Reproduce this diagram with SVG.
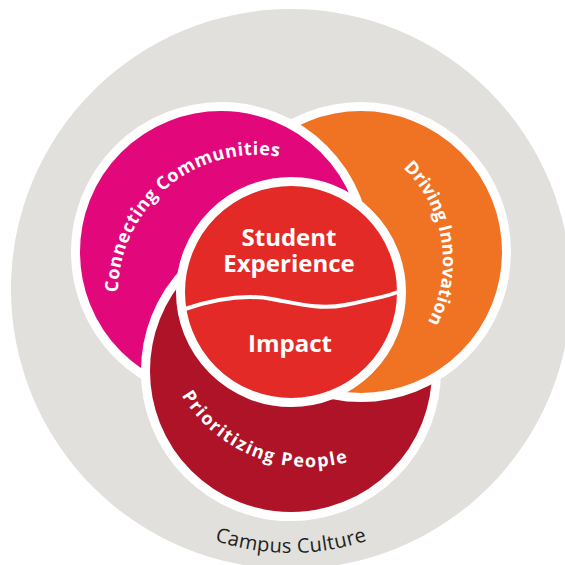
<svg xmlns="http://www.w3.org/2000/svg" width="565" height="565" viewBox="0 0 565 565">
<style>
.ring{stroke:#fff;stroke-width:9}
.lbl{font-family:"Open Sans","Liberation Sans",sans-serif;font-weight:700;fill:#fff}
.arc{font-family:"Open Sans","Liberation Sans",sans-serif;font-weight:700;fill:#fff;font-size:18px}
</style>
<defs>
<path id="pinkArc" d="M136.6,363.5 A139,139 0 0 1 346.4,187.5"/>
<path id="orangeArc" d="M314,132 A129,129 0 0 1 353.9,383.7"/>
<path id="redArc" d="M162.3,292.1 A149,149 0 0 0 434,399.2"/>
<path id="campusArc" d="M83.2,433 A240,240 0 0 0 498.8,433"/>
<clipPath id="wedge"><polygon points="291,292 291,565 0,565 0,140 40,140"/></clipPath>
</defs>
<rect width="565" height="565" fill="#fff"/>
<g id="campus-culture">
<circle cx="291" cy="289" r="280" fill="#e2e0dc"/>
<text font-family="'Open Sans','Liberation Sans',sans-serif" font-size="20" fill="#231f20" text-anchor="middle" letter-spacing="0.4"><textPath href="#campusArc" startOffset="50%">Campus Culture</textPath></text>
</g>
<g id="prioritizing-people-base">
<circle class="ring" cx="291" cy="371" r="145.5" fill="#ae1328"/>
</g>
<g id="driving-innovation">
<circle class="ring" cx="361" cy="252" r="145.5" fill="#f07324"/>
<text class="arc" text-anchor="middle"><textPath href="#orangeArc" startOffset="50%">Driving Innovation</textPath></text>
</g>
<g id="connecting-communities">
<circle class="ring" cx="221" cy="252" r="145.5" fill="#e2077a"/>
<text class="arc" text-anchor="middle" letter-spacing="0.6"><textPath href="#pinkArc" startOffset="50%">Connecting Communities</textPath></text>
</g>
<g id="prioritizing-people">
<circle class="ring" cx="291" cy="371" r="145.5" fill="#ae1328" clip-path="url(#wedge)"/>
<text class="arc" text-anchor="middle" letter-spacing="1.5"><textPath href="#redArc" startOffset="50%">Prioritizing People</textPath></text>
</g>
<g id="student-experience-impact">
<circle class="ring" cx="291" cy="292" r="110.5" fill="#e32a27"/>
<text class="lbl" font-size="24" text-anchor="middle"><tspan x="289" y="246">Student</tspan><tspan x="289" y="272">Experience</tspan></text>
<text class="lbl" font-size="24" text-anchor="middle" x="290" y="352">Impact</text>
</g>
<g id="connectors">
<path d="M185,309 C215,299 245,294 272,299 S320,310 345,305 S385,297 398,292" fill="none" stroke="#fff" stroke-width="4"/>
</g>
</svg>
